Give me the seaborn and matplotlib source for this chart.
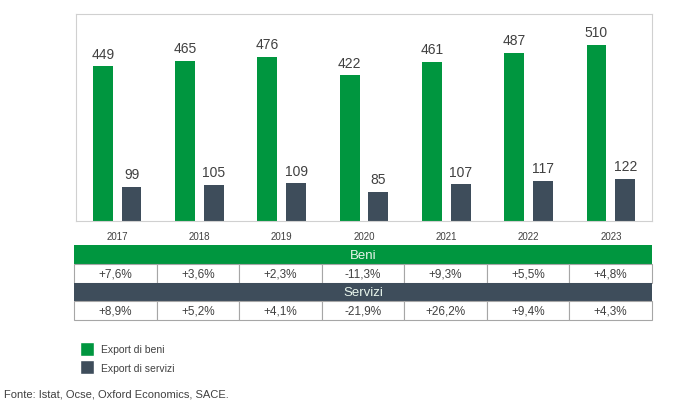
import seaborn as sns
import matplotlib.pyplot as plt
import pandas as pd
from matplotlib.patches import Rectangle, Patch

# Dati: export italiano (mld euro) e variazioni annue
anni = ['2017', '2018', '2019', '2020', '2021', '2022', '2023']
export_beni = [449, 465, 476, 422, 461, 487, 510]
export_servizi = [99, 105, 109, 85, 107, 117, 122]
var_beni = ['+7,6%', '+3,6%', '+2,3%', '-11,3%', '+9,3%', '+5,5%', '+4,8%']
var_servizi = ['+8,9%', '+5,2%', '+4,1%', '-21,9%', '+26,2%', '+9,4%', '+4,3%']
serie = ['Export di beni', 'Export di servizi']

verde = '#00963F'
grigio = '#3E4D5B'

df = pd.DataFrame({
    'anno': anni * 2,
    'valore': export_beni + export_servizi,
    'tipo': [serie[0]] * len(anni) + [serie[1]] * len(anni),
})

sns.set_style('white')
plt.rcParams['font.family'] = ['Liberation Sans', 'DejaVu Sans']

fig = plt.figure(figsize=(6.8, 4.14), dpi=100)
W, H = 680, 414
ax = fig.add_axes([76 / W, 1 - 222 / H, 576 / W, 207 / H])

sns.barplot(data=df, x='anno', y='valore', hue='tipo', palette=[verde, grigio],
            width=0.7, gap=0.31, saturation=1, linewidth=0, ax=ax, legend=False)

for c in ax.containers:
    ax.bar_label(c, padding=4, fontsize=10, color='#404040')

ax.set_ylim(0, 600)
ax.set_xlim(-0.5, 6.5)
ax.set_xlabel('')
ax.set_ylabel('')
ax.set_yticks([])
ax.tick_params(axis='x', length=0, labelsize=7, labelcolor='#404040', pad=7)
for s in ax.spines.values():
    s.set_color('#d0d0d0')
    s.set_linewidth(0.8)

# legenda sotto la tabella
handles = [Patch(facecolor=verde), Patch(facecolor=grigio)]
fig.legend(handles, serie, loc='upper left', bbox_to_anchor=(71 / W, 1 - 334 / H),
           frameon=False, fontsize=7.5, handlelength=1.35, handleheight=1.6,
           handletextpad=0.6, labelspacing=0.45, labelcolor='#404040')

# tabella delle variazioni
tax = fig.add_axes([74 / W, 1 - 321 / H, 578 / W, 75 / H])
tax.set_xlim(-0.5, 6.5)
tax.set_ylim(4, 0)
tax.axis('off')

righe = [('Beni', verde, None), (None, None, var_beni),
         ('Servizi', grigio, None), (None, None, var_servizi)]
for r, (titolo, colore, valori) in enumerate(righe):
    if titolo:
        tax.add_patch(Rectangle((-0.5, r), 7, 1, facecolor=colore, edgecolor='none',
                                clip_on=False))
        tax.text(3, r + 0.52, titolo, ha='center', va='center', fontsize=9.5, color='#e8f5ec')
    else:
        for i, v in enumerate(valori):
            tax.add_patch(Rectangle((i - 0.5, r), 1, 1, facecolor='white',
                                    edgecolor='#a6a6a6', linewidth=0.8, clip_on=False))
            tax.text(i, r + 0.52, v, ha='center', va='center', fontsize=8.5, color='#404040')

fig.text(4 / W, 1 - 395 / H, 'Fonte: Istat, Ocse, Oxford Economics, SACE.',
         fontsize=8, color='#404040', va='center')

fig.savefig('out.png', dpi=100)
